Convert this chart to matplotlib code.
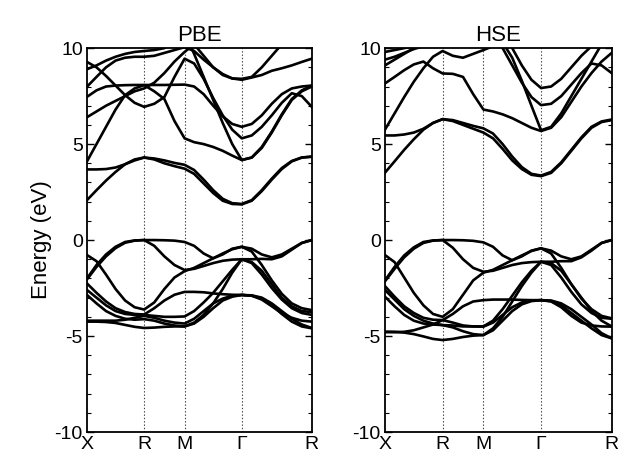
import numpy as np
import matplotlib
matplotlib.use("Agg")
import matplotlib.pyplot as plt
from matplotlib.ticker import MultipleLocator

plt.rcParams['font.family'] = ['Liberation Sans', 'DejaVu Sans']
plt.rcParams['axes.unicode_minus'] = False

# high-symmetry path X-R-M-G-R of the simple cubic cell (path lengths in 2pi/a)
kpath = [0.0, 0.707, 1.207, 1.914, 2.780]
klabels = ['X', 'R', 'M', 'Γ', 'R']
nseg = [6, 4, 6, 7]

# PBE bands (eV), 24 k-points along the path
pbe_bands = [
    # conduction
    [2.08, 2.6, 3.1, 3.55, 3.95, 4.2, 4.3, 4.2, 4.0, 3.85, 3.72, 3.45, 2.95, 2.45, 2.05, 1.88, 1.86, 2.05, 2.55, 3.15, 3.7, 4.1, 4.3, 4.34],
    [3.68, 3.68, 3.7, 3.78, 3.95, 4.15, 4.3, 4.25, 4.15, 4.02, 3.92, 3.65, 3.15, 2.6, 2.15, 1.92, 1.88, 2.08, 2.6, 3.2, 3.75, 4.12, 4.3, 4.35],
    [4.1, 5.0, 5.9, 6.8, 7.55, 7.9, 8.07, 7.75, 7.35, 6.2, 5.3, 5.1, 5.0, 4.85, 4.65, 4.4, 4.17, 4.3, 4.8, 5.6, 6.5, 7.3, 7.75, 8.0],
    [9.28, 9.0, 8.55, 8.05, 7.55, 7.15, 6.94, 7.1, 7.45, 8.5, 9.45, 9.2, 8.4, 7.4, 6.5, 5.75, 5.3, 5.45, 5.9, 6.5, 7.15, 7.65, 7.5, 6.94],
    [7.46, 7.8, 8.0, 8.05, 8.07, 8.08, 8.08, 8.08, 8.08, 8.09, 8.1, 8.0, 7.6, 7.0, 6.45, 6.05, 5.9, 6.05, 6.5, 7.1, 7.6, 7.9, 8.0, 8.05],
    [7.99, 8.5, 9.0, 9.35, 9.5, 9.55, 9.55, 9.6, 9.75, 9.9, 10.05, 9.85, 9.4, 9.0, 8.65, 8.42, 8.35, 8.47, 8.6, 8.82, 8.95, 9.1, 9.28, 9.45],
    [8.9, 9.1, 9.35, 9.55, 9.7, 9.8, 9.85, 9.9, 10.0, 10.3, 10.6, 10.2, 9.6, 9.0, 8.6, 8.42, 8.4, 8.5, 9.0, 9.6, 10.2, 10.8, 11.3, 11.8],
    [6.4, 6.7, 7.0, 7.25, 7.5, 7.75, 7.9, 8.2, 8.7, 9.3, 9.8, 10.2, 10.6, 11.0, 11.2, 11.3, 11.3, 11.3, 11.3, 11.3, 11.3, 11.3, 11.3, 11.3],
    [12.0, 12.0, 12.0, 12.0, 12.0, 12.0, 12.0, 12.0, 11.8, 11.4, 10.8, 9.7, 8.5, 7.3, 6.1, 5.0, 4.17, 4.3, 4.85, 5.65, 6.55, 7.35, 7.8, 8.05],
    # valence
    [-2.0, -1.3, -0.75, -0.35, -0.1, -0.02, 0.0, 0.0, -0.01, -0.03, -0.1, -0.3, -0.7, -0.95, -0.75, -0.45, -0.35, -0.45, -0.75, -0.9, -0.75, -0.45, -0.15, 0.0],
    [-2.05, -1.4, -0.85, -0.42, -0.14, -0.03, 0.0, -0.3, -0.85, -1.3, -1.56, -1.5, -1.35, -1.2, -1.08, -1.02, -1.0, -1.0, -0.98, -1.0, -0.85, -0.5, -0.15, 0.0],
    [-0.78, -1.1, -1.8, -2.55, -3.15, -3.5, -3.62, -3.25, -2.55, -1.95, -1.62, -1.45, -1.2, -0.95, -0.7, -0.48, -0.35, -0.6, -1.3, -2.1, -2.8, -3.3, -3.55, -3.65],
    [-2.26, -2.75, -3.2, -3.55, -3.75, -3.85, -3.88, -3.55, -3.15, -2.85, -2.7, -2.7, -2.72, -2.78, -2.82, -2.85, -2.86, -2.88, -3.0, -3.3, -3.7, -4.1, -4.4, -4.58],
    [-2.6, -3.0, -3.4, -3.7, -3.85, -3.9, -3.9, -3.95, -4.0, -4.0, -3.98, -3.7, -3.25, -2.75, -2.15, -1.55, -1.0, -1.2, -1.8, -2.5, -3.1, -3.55, -3.8, -3.9],
    [-2.86, -3.3, -3.7, -3.95, -4.1, -4.15, -4.12, -4.2, -4.35, -4.45, -4.5, -4.3, -3.9, -3.3, -2.55, -1.7, -1.0, -1.15, -1.6, -2.3, -3.0, -3.45, -3.7, -3.75],
    [-4.25, -4.25, -4.27, -4.32, -4.42, -4.52, -4.58, -4.56, -4.52, -4.5, -4.5, -4.35, -4.0, -3.55, -3.15, -2.95, -2.86, -2.9, -3.05, -3.4, -3.85, -4.25, -4.5, -4.6],
    [-4.2, -4.2, -4.2, -4.2, -4.15, -4.05, -3.95, -4.05, -4.2, -4.3, -4.35, -4.1, -3.7, -3.3, -3.05, -2.9, -2.86, -2.9, -3.1, -3.45, -3.8, -4.05, -4.2, -4.25],
]

# HSE bands (eV), same k-points
hse_bands = [
    # conduction
    [3.51, 4.1, 4.7, 5.25, 5.75, 6.1, 6.3, 6.2, 6.0, 5.8, 5.6, 5.3, 4.75, 4.15, 3.7, 3.4, 3.33, 3.5, 4.0, 4.65, 5.3, 5.85, 6.15, 6.25],
    [5.45, 5.45, 5.5, 5.6, 5.8, 6.1, 6.3, 6.25, 6.1, 5.95, 5.82, 5.55, 5.0, 4.35, 3.8, 3.45, 3.36, 3.55, 4.05, 4.7, 5.35, 5.9, 6.18, 6.28],
    [5.75, 6.6, 7.45, 8.25, 8.95, 9.55, 9.85, 9.6, 9.5, 9.7, 9.9, 10.1, 10.3, 10.6, 10.9, 11.2, 11.3, 11.3, 11.3, 11.3, 11.3, 11.3, 11.3, 11.3],
    [8.16, 8.5, 8.85, 9.15, 9.3, 8.95, 8.68, 8.66, 8.5, 7.6, 6.8, 6.7, 6.55, 6.35, 6.1, 5.85, 5.68, 5.85, 6.4, 7.2, 8.0, 8.7, 9.3, 9.75],
    [9.4, 9.55, 9.75, 9.95, 10.1, 10.3, 10.4, 10.4, 10.4, 10.3, 10.2, 10.6, 10.0, 9.1, 8.2, 7.45, 7.03, 7.1, 7.5, 8.1, 8.7, 9.2, 9.1, 8.7],
    [9.1, 9.4, 9.7, 10.0, 10.3, 10.5, 10.6, 10.8, 11.0, 11.3, 11.5, 11.5, 10.8, 10.0, 9.1, 8.35, 7.92, 8.0, 8.4, 9.0, 9.6, 10.1, 10.5, 10.8],
    [9.8, 9.9, 10.0, 10.1, 10.2, 10.3, 10.4, 10.6, 10.9, 11.2, 11.4, 11.3, 10.3, 9.5, 8.3, 7.0, 5.72, 5.9, 6.6, 7.5, 8.4, 9.3, 10.2, 11.0],
    # valence
    [-2.1, -1.4, -0.8, -0.38, -0.1, -0.02, 0.0, 0.0, -0.01, -0.04, -0.12, -0.35, -0.8, -1.05, -0.85, -0.55, -0.43, -0.55, -0.85, -1.0, -0.85, -0.5, -0.15, 0.0],
    [-2.15, -1.5, -0.9, -0.45, -0.15, -0.03, 0.0, -0.4, -1.0, -1.45, -1.65, -1.6, -1.45, -1.3, -1.2, -1.15, -1.13, -1.13, -1.1, -1.1, -0.9, -0.55, -0.15, 0.0],
    [-0.78, -1.15, -1.95, -2.75, -3.4, -3.85, -4.0, -3.6, -2.85, -2.1, -1.7, -1.55, -1.3, -1.05, -0.8, -0.57, -0.43, -0.7, -1.45, -2.3, -3.05, -3.6, -3.95, -4.08],
    [-2.4, -2.95, -3.45, -3.8, -4.05, -4.15, -4.17, -3.85, -3.45, -3.2, -3.13, -3.1, -3.1, -3.1, -3.12, -3.13, -3.13, -3.15, -3.3, -3.6, -4.0, -4.4, -4.85, -5.12],
    [-2.6, -3.1, -3.6, -3.95, -4.2, -4.35, -4.43, -4.45, -4.5, -4.5, -4.51, -4.3, -3.9, -3.5, -3.25, -3.15, -3.13, -3.2, -3.5, -3.95, -4.3, -4.45, -4.5, -4.51],
    [-2.95, -3.45, -3.9, -4.2, -4.35, -4.4, -4.43, -4.55, -4.75, -4.9, -4.95, -4.6, -4.0, -3.2, -2.4, -1.7, -1.13, -1.3, -1.95, -2.7, -3.35, -3.8, -4.05, -4.1],
    [-4.77, -4.78, -4.82, -4.9, -5.02, -5.15, -5.21, -5.15, -5.05, -4.98, -4.95, -4.7, -4.2, -3.7, -3.35, -3.18, -3.13, -3.18, -3.4, -3.8, -4.2, -4.6, -4.95, -5.12],
    [-4.8, -4.8, -4.78, -4.7, -4.55, -4.4, -4.17, -4.3, -4.45, -4.5, -4.5, -4.2, -3.6, -2.9, -2.2, -1.6, -1.13, -1.2, -1.6, -2.3, -3.0, -3.7, -4.2, -4.5],
]

# k-point coordinates along the path
kx = [np.linspace(kpath[i], kpath[i + 1], nseg[i] + 1)[(1 if i else 0):] for i in range(4)]
kx = np.concatenate(kx)

fig = plt.figure(figsize=(6.28, 4.57), dpi=100)
ax1 = fig.add_axes([0.1385, 0.0547, 0.358, 0.840])
ax2 = fig.add_axes([0.613, 0.0547, 0.361, 0.840])

for ax, bands, title in [(ax1, pbe_bands, 'PBE'), (ax2, hse_bands, 'HSE')]:
    for kv in kpath[1:-1]:
        ax.axvline(kv, color='0.25', lw=0.8, ls=(0, (1.2, 1.8)), zorder=1)
    for b in bands:
        ax.plot(kx, b, color='black', lw=1.9, solid_joinstyle='round', zorder=2)
    ax.set_xlim(kpath[0], kpath[-1])
    ax.set_ylim(-10, 10)
    ax.set_xticks(kpath)
    ax.set_xticklabels(klabels, fontsize=14)
    ax.tick_params(axis='x', length=0, pad=3)
    ax.yaxis.set_major_locator(MultipleLocator(5))
    ax.yaxis.set_minor_locator(MultipleLocator(1))
    ax.tick_params(axis='y', which='both', direction='in', left=True, right=True, labelsize=14, pad=3)
    ax.tick_params(axis='y', which='major', length=5, width=1)
    ax.tick_params(axis='y', which='minor', length=3, width=0.8)
    for s in ax.spines.values():
        s.set_linewidth(1.3)
    ax.set_title(title, fontsize=16, pad=5)

ax1.set_ylabel('Energy (eV)', fontsize=16, labelpad=2)

fig.savefig('out.png', dpi=100)
